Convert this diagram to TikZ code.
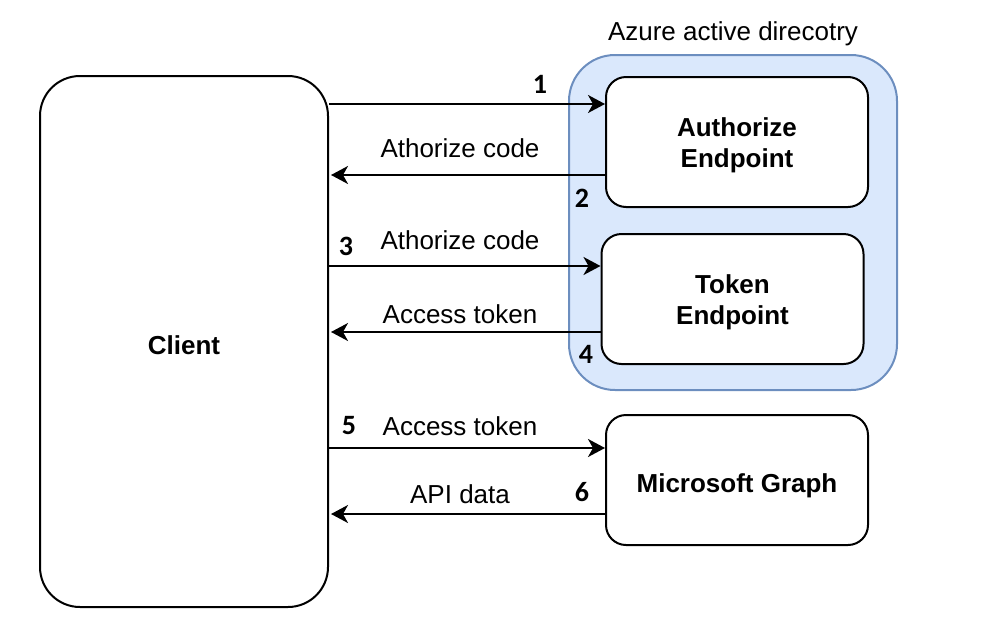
\documentclass[tikz,border=0pt]{standalone}
\usepackage{fontspec}
\setmainfont{Liberation Sans}
\newfontfamily\stepfont{Carlito}
\usetikzlibrary{positioning, arrows.meta}
\definecolor{aadfill}{HTML}{DAE8FC}
\definecolor{aaddraw}{HTML}{6C8EBF}
\newcommand{\upstrut}{\rule{0pt}{13pt}}
\tikzstyle{party} = [rectangle, rounded corners=20pt, draw, fill=white, line width=1pt, text centered, font=\bfseries\fontsize{13}{15.5}\selectfont]
\tikzstyle{endpoint} = [party, rounded corners=10pt, minimum width=131pt, minimum height=65pt, align=center]
\tikzstyle{oneline} = [text height=12.5pt, text depth=0pt]
\tikzstyle{group} = [rectangle, rounded corners=23pt, draw=aaddraw, fill=aadfill, line width=1pt]
\tikzstyle{flow} = [line width=1pt, -{Stealth[length=8.5pt, width=9pt, inset=2.5pt]}]
\tikzstyle{msg} = [font=\fontsize{13}{15.5}\selectfont, inner sep=0pt]
\tikzstyle{stepno} = [font=\stepfont\bfseries\fontsize{14}{16}\selectfont, inner sep=0pt]

\begin{document}
\begin{tikzpicture}[x=0.5pt, y=-0.5pt]

  \useasboundingbox (0,0) rectangle (985,627);

  \node (azure) [group, minimum width=164pt, minimum height=167.5pt] at (733,222.5) {};
  \node (aadname) [msg] at (733,34) {Azure active direcotry};

  \node (client) [party, oneline, minimum width=144pt, minimum height=265.5pt] at (184,341.5) {Client};
  \node (auth) [endpoint] at (737,142) {\upstrut Authorize\\Endpoint};
  \node (token) [endpoint] at (732.5,299) {\upstrut Token\\Endpoint};
  \node (graph) [endpoint, oneline] at (737,480) {Microsoft Graph};

  % attachment points on the right-hand boxes
  \coordinate (a1) at ([yshift=19pt]auth.west);
  \coordinate (a2) at ([yshift=-16.5pt]auth.west);
  \coordinate (a3) at ([yshift=16.5pt]token.west);
  \coordinate (a4) at ([yshift=-16.5pt]token.west);
  \coordinate (a5) at ([yshift=16pt]graph.west);
  \coordinate (a6) at ([yshift=-17pt]graph.west);

  \draw [flow] (client.east |- a1) -- (a1);
  \draw [flow] (a2) -- ([xshift=1pt]client.east |- a2);
  \draw [flow] (client.east |- a3) -- (a3);
  \draw [flow] (a4) -- ([xshift=1pt]client.east |- a4);
  \draw [flow] (client.east |- a5) -- (a5);
  \draw [flow] (a6) -- ([xshift=1pt]client.east |- a6);

  \node (m2) [msg] at (460,148) {Athorize code};
  \node (m3) [msg] at (460,240) {Athorize code};
  \node (m4) [msg] at (460,314) {Access token};
  \node (m5) [msg] at (460,426) {Access token};
  \node (m6) [msg] at (460,494) {API data};

  \node (s1) [stepno] at (540,84) {1};
  \node (s2) [stepno] at (582,198) {2};
  \node (s3) [stepno] at (346,246) {3};
  \node (s4) [stepno] at (586,354) {4};
  \node (s5) [stepno] at (349,426) {5};
  \node (s6) [stepno] at (582,492) {6};

\end{tikzpicture}
\end{document}
